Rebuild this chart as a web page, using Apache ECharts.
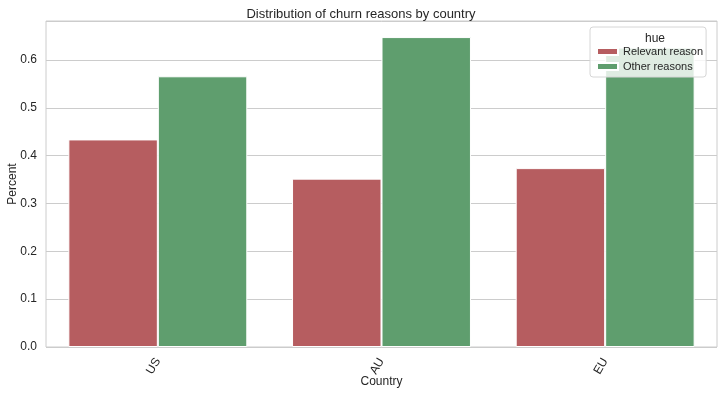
<!DOCTYPE html>
<html><head><meta charset="utf-8">
<script src="https://cdn.jsdelivr.net/npm/echarts@6/dist/echarts.min.js"></script>
<style>html,body{margin:0;padding:0;background:#fff}#c{width:722px;height:396px}</style>
</head><body><div id="c"></div>
<script>
const categories = ['US', 'AU', 'EU'];
const relevantReason = [0.434, 0.352, 0.374];
const otherReasons = [0.566, 0.648, 0.626];
const yTicks = [0.0, 0.1, 0.2, 0.3, 0.4, 0.5, 0.6];

const FONT = '"Liberation Sans", Arial, sans-serif';
const chart = echarts.init(document.getElementById('c'), null, {renderer: 'canvas'});
chart.setOption({
  animation: false,
  backgroundColor: '#ffffff',
  title: [
    {text: 'Distribution of churn reasons by country', left: 'center', top: 3,
     textStyle: {fontFamily: FONT, fontSize: 13, fontWeight: 'normal', color: '#262626'}},
    {text: 'hue', left: 650, top: 28, textAlign: 'center',
     textStyle: {fontFamily: FONT, fontSize: 12, fontWeight: 'normal', color: '#262626'}, z: 10}
  ],
  grid: {left: 46, right: 5, top: 21, bottom: 49, show: true, borderColor: '#cccccc', borderWidth: 1,
         containLabel: false, outerBoundsMode: 'none'},
  legend: {
    orient: 'vertical', left: 590, top: 27,
    padding: [17, 3, 3, 6],
    itemWidth: 21, itemHeight: 7, itemGap: 0, itemTextGap: 9,
    backgroundColor: 'rgba(255,255,255,0.8)', borderColor: '#d6d6d6', borderWidth: 1, borderRadius: 3,
    icon: 'rect',
    textStyle: {fontFamily: FONT, fontSize: 11, color: '#262626', lineHeight: 15, height: 15},
    data: ['Relevant reason', 'Other reasons']
  },
  xAxis: {
    type: 'category', data: categories,
    name: 'Country', nameLocation: 'middle', nameGap: 29, nameMoveOverlap: false,
    nameTextStyle: {fontFamily: FONT, fontSize: 12, color: '#262626'},
    axisLine: {show: false}, axisTick: {show: false},
    axisLabel: {rotate: 60, fontFamily: FONT, fontSize: 12, color: '#262626', margin: 12}
  },
  yAxis: {
    type: 'value', min: 0, max: 0.6816, interval: 0.1,
    name: 'Percent', nameLocation: 'middle', nameGap: 27, nameMoveOverlap: false,
    nameTextStyle: {fontFamily: FONT, fontSize: 12, color: '#262626'},
    axisLine: {show: false}, axisTick: {show: false},
    splitLine: {lineStyle: {color: '#cccccc', width: 1}},
    axisLabel: {fontFamily: FONT, fontSize: 12, color: '#262626', margin: 9,
      formatter: v => { const t = yTicks.find(x => Math.abs(x - v) < 1e-6); return t === undefined ? '' : t.toFixed(1); },
      showMaxLabel: false}
  },
  series: [
    {name: 'Relevant reason', type: 'bar', data: relevantReason, barWidth: '40%', barGap: '0%',
     itemStyle: {color: '#b65d60', borderColor: '#ffffff', borderWidth: 1}},
    {name: 'Other reasons', type: 'bar', data: otherReasons, barWidth: '40%', barGap: '0%',
     itemStyle: {color: '#5f9e6e', borderColor: '#ffffff', borderWidth: 1}}
  ]
});
</script></body></html>
